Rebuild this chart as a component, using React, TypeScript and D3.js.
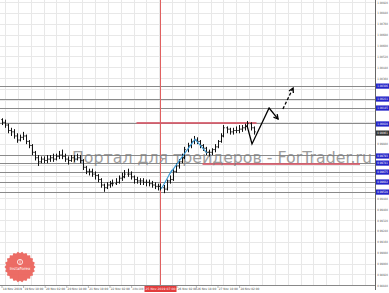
import React from 'react';
import * as d3 from 'd3';

const W = 389;
const H = 293;

// OHLC (open = previous close)
const closes = [1.0004,1.0002,0.9998,0.9997,0.9994,0.9991,0.9993,0.9994,0.9990,0.9987,0.9982,0.9978,0.9975,0.9977,0.9976,0.9977,0.9978,0.9977,0.9979,0.9980,0.9979,0.9977,0.9976,0.9978,0.9977,0.9978,0.9976,0.9971,0.9968,0.9968,0.9966,0.9965,0.9962,0.9958,0.9956,0.9958,0.9959,0.9959,0.9960,0.9963,0.9964,0.9966,0.9966,0.9964,0.9962,0.9961,0.9961,0.9960,0.9960,0.9959,0.9958,0.9957,0.9957,0.9956,0.9955,0.9961,0.9962,0.9968,0.9972,0.9975,0.9978,0.9984,0.9987,0.9990,0.9991,0.9990,0.9987,0.9985,0.9982,0.9982,0.9984,0.9986,0.9990,0.9994,1.0000,0.9999,0.9997,0.9998,0.9998,0.9999,1.0000,1.0001,1.0003,1.0000,0.9997];
const highs = [1.0007,1.0006,1.0003,1.0000,0.9999,0.9996,0.9995,0.9997,0.9995,0.9991,0.9988,0.9983,0.9980,0.9979,0.9979,0.9980,0.9980,0.9981,0.9981,0.9983,0.9984,0.9981,0.9979,0.9980,0.9980,0.9981,0.9980,0.9977,0.9972,0.9970,0.9970,0.9968,0.9966,0.9963,0.9959,0.9960,0.9961,0.9962,0.9963,0.9965,0.9967,0.9969,0.9970,0.9968,0.9965,0.9964,0.9963,0.9963,0.9962,0.9962,0.9961,0.9960,0.9959,0.9959,0.9958,0.9962,0.9965,0.9970,0.9974,0.9977,0.9981,0.9986,0.9989,0.9992,0.9994,0.9993,0.9991,0.9988,0.9986,0.9984,0.9985,0.9988,0.9991,0.9996,1.0002,1.0001,1.0000,1.0000,1.0001,1.0002,1.0002,1.0003,1.0005,1.0004,1.0001];
const lows = [1.0002,1.0000,0.9996,0.9994,0.9992,0.9989,0.9990,0.9991,0.9988,0.9985,0.9980,0.9976,0.9972,0.9974,0.9974,0.9974,0.9975,0.9975,0.9976,0.9977,0.9977,0.9975,0.9973,0.9975,0.9975,0.9976,0.9974,0.9969,0.9966,0.9965,0.9964,0.9962,0.9960,0.9956,0.9953,0.9955,0.9956,0.9957,0.9958,0.9959,0.9961,0.9963,0.9964,0.9962,0.9959,0.9959,0.9958,0.9958,0.9957,0.9957,0.9956,0.9955,0.9954,0.9954,0.9952,0.9954,0.9959,0.9961,0.9967,0.9970,0.9974,0.9977,0.9982,0.9985,0.9988,0.9988,0.9985,0.9983,0.9980,0.9979,0.9980,0.9982,0.9985,0.9989,0.9993,0.9996,0.9995,0.9995,0.9996,0.9996,0.9997,0.9998,1.0000,0.9998,0.9995];

const priceTicks = ["1.00920","1.00840","1.00760","1.00680","1.00600","1.00520","1.00440","1.00360","1.00280","1.00200","1.00120","1.00040","0.99960","0.99880","0.99800","0.99720","0.99640","0.99560","0.99480","0.99400","0.99320","0.99240","0.99160","0.99080","0.99000","0.98920","0.98840"];
const levelPrices = [1.00306, 1.00211, 1.00145, 1.00028, 0.99793, 0.99741, 0.99675, 0.99602, 0.99528];
const currentPrice = 0.99961;
const redLevels = [
  { from: 45, to: 85, price: 1.00035 },
  { from: 67, to: 119.5, price: 0.99734 },
];
const timeLabels = ["18 Nov 2019","19 Nov 10:00","20 Nov 02:00","20 Nov 18:00","21 Nov 10:00","22 Nov 02:00","24 Nov 18:00","25 Nov 10:00","26 Nov 02:00","26 Nov 18:00","27 Nov 10:00","28 Nov 02:00"];
const cursorLabel = "25 Nov 2019 07:00";
const cursorBar = 52.8;

// annotation paths (bar index, price)
const wavePath = [[53.3, 0.99553],[56.8, 0.99690],[55.8, 0.99653],[64.5, 0.99917],[68.5, 0.99814]];
const solidArrow = [[81.8, 1.0002],[83.5, 0.99881],[89.2, 1.00145],[92.2, 1.00064]];
const dashedArrow = [[93.8, 1.00138],[97.2, 1.00292]];

const PLOT_R = 375;
const PLOT_B = 285;

export default function App() {
  const x = d3.scaleLinear().domain([0, 84]).range([1.5, 253.5]);
  const y = d3.scaleLinear().domain([0.98846, 1.00938]).range([PLOT_B, 0]);
  const tx = d3.scaleLinear().domain([0, timeLabels.length - 1]).range([2, 239.6]);
  const line = d3.line<number[]>().x(d => x(d[0])).y(d => y(d[1]));

  const vGrid = d3.range(5.5, PLOT_R, 12.85);

  const arrowHead = (pts: number[][], len = 5) => {
    const a = pts[pts.length - 2], b = pts[pts.length - 1];
    const x1 = x(a[0]), y1 = y(a[1]), x2 = x(b[0]), y2 = y(b[1]);
    const ang = Math.atan2(y2 - y1, x2 - x1);
    const p1 = [x2 - len * Math.cos(ang - 0.5), y2 - len * Math.sin(ang - 0.5)];
    const p2 = [x2 - len * Math.cos(ang + 0.5), y2 - len * Math.sin(ang + 0.5)];
    return `M${p1[0]},${p1[1]}L${x2},${y2}L${p2[0]},${p2[1]}`;
  };

  const seal = (() => {
    const cx = 20, cy = 267, n = 22;
    const pts: string[] = [];
    for (let k = 0; k < n * 2; k++) {
      const r = k % 2 === 0 ? 15.5 : 13.8;
      const a = (Math.PI * k) / n;
      pts.push(`${cx + r * Math.cos(a)},${cy + r * Math.sin(a)}`);
    }
    return 'M' + pts.join('L') + 'Z';
  })();

  const axisFont = 'DejaVu Sans, sans-serif';
  const cx = Math.round(x(cursorBar)) + 0.5;
  const boxYs = [...levelPrices, currentPrice].map(p => y(p));
  const visibleTicks = priceTicks.filter(t => boxYs.every(by => Math.abs(by - y(+t)) > 5));
  const boxL = cx - 16, boxR = cx + 16;

  const timeItems = timeLabels.map((t, i) => {
    let lx = tx(i);
    let len = 19;
    if (lx >= boxL - 4 && lx < boxR - 6) return null; // hidden under the cursor box
    if (lx >= boxR - 6 && lx < boxR) lx = boxR + 0.5;
    if (lx < boxL && lx + 20 > boxL) len = boxL - lx - 2;
    return { t, lx, len };
  });

  return (
    <svg width={W} height={H} style={{ position: 'fixed', left: 0, top: 0, background: '#fff' }}>
      <rect x={0} y={0} width={W} height={H} fill="#fff" />
      <g stroke="#e8e8e8" strokeWidth={1} shapeRendering="crispEdges">
        {vGrid.map((g, i) => <line key={'v' + i} x1={g} x2={g} y1={0} y2={PLOT_B} />)}
        {priceTicks.map((t, i) => <line key={'h' + i} x1={0} x2={PLOT_R} y1={y(+t)} y2={y(+t)} />)}
      </g>
      <g stroke="#8a8a8a" strokeWidth={1} shapeRendering="crispEdges">
        {levelPrices.map((p, i) => <line key={i} x1={0} x2={PLOT_R} y1={y(p)} y2={y(p)} />)}
      </g>
      <line x1={cx} x2={cx} y1={0} y2={PLOT_B} stroke="#e06060" strokeWidth={1} shapeRendering="crispEdges" />
      {redLevels.map((r, i) => (
        <line key={i} x1={x(r.from)} x2={i === 1 ? 360 : x(r.to)} y1={y(r.price)} y2={y(r.price)} stroke="#d65a6a" strokeWidth={2} opacity={0.85} />
      ))}
      <text x={72} y={163} fontFamily={axisFont} fontSize={16} fill="#7d7d7d" opacity={0.75} textLength={300} lengthAdjust="spacingAndGlyphs">Портал для трейдеров - ForTrader.ru</text>
      <g stroke="#111" strokeWidth={1}>
        {closes.map((c, i) => {
          const o = i === 0 ? highs[0] - 0.0001 : closes[i - 1];
          const xi = Math.round(x(i)) + 0.5;
          return (
            <g key={i}>
              <line x1={xi} x2={xi} y1={y(highs[i])} y2={y(lows[i])} />
              <line x1={xi - 1.2} x2={xi} y1={y(o)} y2={y(o)} />
              <line x1={xi} x2={xi + 1.2} y1={y(c)} y2={y(c)} />
            </g>
          );
        })}
      </g>
      <path d={line(wavePath) || ''} fill="none" stroke="#3c9ad6" strokeWidth={1.1} />
      <path d={line(solidArrow) || ''} fill="none" stroke="#000" strokeWidth={1.3} />
      <path d={arrowHead(solidArrow)} fill="none" stroke="#000" strokeWidth={1.3} />
      <path d={line(dashedArrow) || ''} fill="none" stroke="#000" strokeWidth={1.3} strokeDasharray="3,2" />
      <path d={arrowHead(dashedArrow)} fill="none" stroke="#000" strokeWidth={1.3} />
      <line x1={PLOT_R + 0.5} x2={PLOT_R + 0.5} y1={0} y2={PLOT_B + 5} stroke="#666" strokeWidth={1} />
      <line x1={0} x2={PLOT_R} y1={PLOT_B + 0.5} y2={PLOT_B + 0.5} stroke="#888" strokeWidth={1} />
      <g fontFamily={axisFont} fontSize={3} fill="#555">
        {visibleTicks.map((t, i) => <text key={i} x={377.3} y={y(+t) + 1.1} textLength={10.5} lengthAdjust="spacingAndGlyphs">{t}</text>)}
      </g>
      {levelPrices.map((p, i) => (
        <g key={i}>
          <rect x={376} y={y(p) - 2.6} width={13} height={5.2} fill="#2424c8" />
          <text x={377.3} y={y(p) + 1.1} fontFamily={axisFont} fontSize={3} fill="#fff" textLength={10.5} lengthAdjust="spacingAndGlyphs">{p.toFixed(5)}</text>
        </g>
      ))}
      <rect x={376} y={y(currentPrice) - 2.6} width={13} height={5.2} fill="#333" />
      <text x={377.3} y={y(currentPrice) + 1.1} fontFamily={axisFont} fontSize={3} fill="#fff" textLength={10.5} lengthAdjust="spacingAndGlyphs">{currentPrice.toFixed(5)}</text>
      <g fontFamily={axisFont} fontSize={3} fill="#444">
        {timeItems.map((it, i) => it && (
          <g key={i}>
            <line x1={it.lx} x2={it.lx} y1={PLOT_B} y2={PLOT_B + 3} stroke="#888" strokeWidth={0.6} />
            <text x={it.lx + 0.8} y={290.3} textLength={it.len} lengthAdjust="spacingAndGlyphs">{it.t}</text>
          </g>
        ))}
      </g>
      <rect x={boxL} y={286} width={32} height={6} fill="#e23c3c" />
      <text x={boxL + 1} y={290.3} fontFamily={axisFont} fontSize={3} fill="#fff" textLength={30} lengthAdjust="spacingAndGlyphs">{cursorLabel}</text>
      <path d={seal} fill="#ea5f58" opacity={0.92} />
      <circle cx={20} cy={262} r={2.6} fill="none" stroke="#fff" strokeWidth={0.8} />
      <line x1={20} x2={20} y1={260} y2={264} stroke="#fff" strokeWidth={0.6} />
      <text x={20} y={270} textAnchor="middle" fontFamily={axisFont} fontSize={4} fill="#fff">InstaForex</text>
    </svg>
  );
}
